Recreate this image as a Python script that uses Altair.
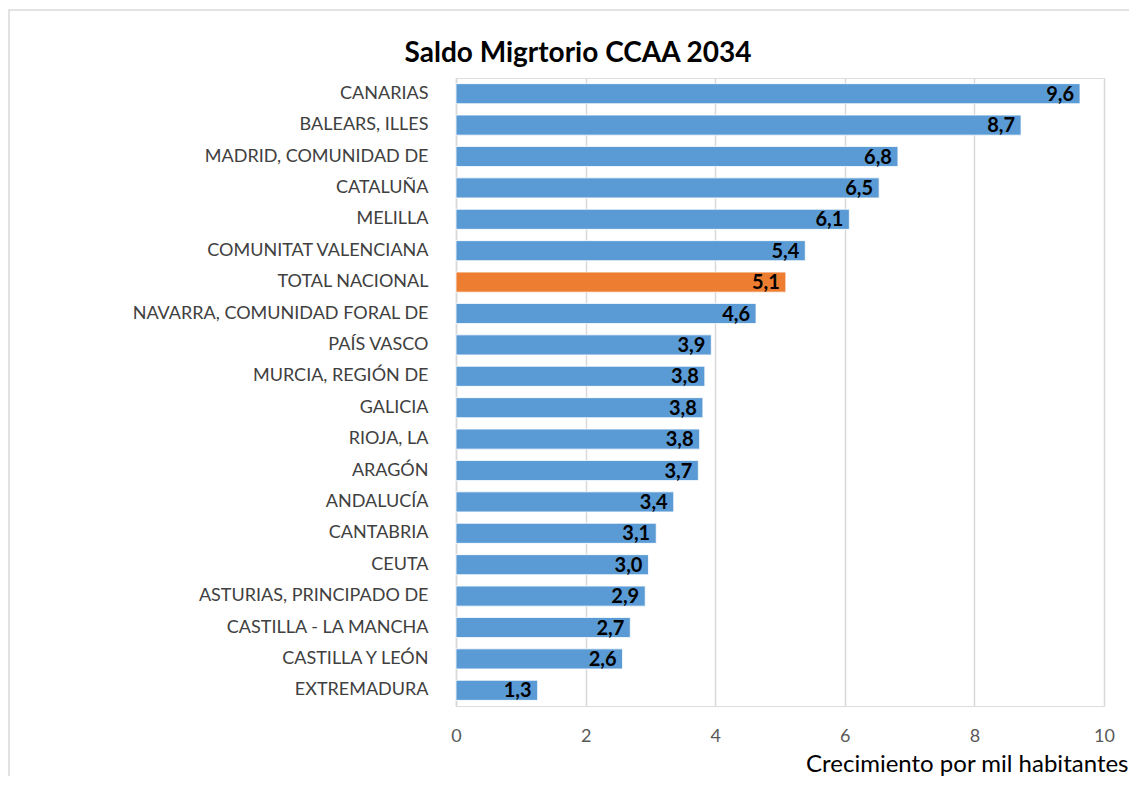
import altair as alt
import pandas as pd

regions = [
    "CANARIAS", "BALEARS, ILLES", "MADRID, COMUNIDAD DE", "CATALUÑA", "MELILLA",
    "COMUNITAT VALENCIANA", "TOTAL NACIONAL", "NAVARRA, COMUNIDAD FORAL DE",
    "PAÍS VASCO", "MURCIA, REGIÓN DE", "GALICIA", "RIOJA, LA", "ARAGÓN",
    "ANDALUCÍA", "CANTABRIA", "CEUTA", "ASTURIAS, PRINCIPADO DE",
    "CASTILLA - LA MANCHA", "CASTILLA Y LEÓN", "EXTREMADURA",
]
values = [9.63, 8.72, 6.82, 6.53, 6.07, 5.39, 5.09, 4.63, 3.94, 3.84, 3.81, 3.76,
          3.74, 3.36, 3.09, 2.97, 2.92, 2.69, 2.57, 1.26]
labels = ["9,6", "8,7", "6,8", "6,5", "6,1", "5,4", "5,1", "4,6", "3,9", "3,8",
          "3,8", "3,8", "3,7", "3,4", "3,1", "3,0", "2,9", "2,7", "2,6", "1,3"]
highlight = ["TOTAL NACIONAL"]
title_text = "Saldo Migrtorio CCAA 2034"

df = pd.DataFrame({"region": regions, "value": values, "label": labels})
df["grupo"] = ["total" if r in highlight else "ccaa" for r in regions]

W, H = 648, 628

y_enc = alt.Y("region:N", sort=regions, title=None,
              scale=alt.Scale(paddingInner=0.36, paddingOuter=0.18),
              axis=alt.Axis(labelFont="Lato", labelFontSize=18, labelColor="#404040",
                            labelPadding=28, ticks=False, domain=True,
                            domainColor="#d9d9d9", domainWidth=1.5, grid=False,
                            labelLimit=440))
x_enc = alt.X("value:Q", scale=alt.Scale(domain=[0, 10], nice=False),
              axis=alt.Axis(values=[0, 2, 4, 6, 8, 10], format="d", grid=True,
                            gridColor="#d9d9d9", gridWidth=1.5, domain=False, ticks=False,
                            labelFont="Lato", labelFontSize=18, labelColor="#595959",
                            labelPadding=21, labelFlush=False,
                            title="Crecimiento por mil habitantes",
                            titleFont="Lato", titleFontSize=24, titleFontWeight="normal",
                            titleColor="#000000", titleAnchor="end", titleAlign="right",
                            titleX=672, titleY=65, titleBaseline="alphabetic"))

frame = alt.Chart(pd.DataFrame({"k": [0]})).mark_rect(
    fill=None, stroke="#d9d9d9", strokeWidth=1.5
).encode(x=alt.value(-447), x2=alt.value(760), y=alt.value(-68), y2=alt.value(800))

title = alt.Chart(pd.DataFrame({"t": [title_text]})).mark_text(
    font="Lato", fontSize=28, fontWeight="bold", color="black",
    align="center", baseline="alphabetic"
).encode(text="t:N", x=alt.value(122), y=alt.value(-16))

bars = alt.Chart(df).mark_bar(stroke="white", strokeWidth=0.8).encode(
    x=x_enc, y=y_enc,
    color=alt.Color("grupo:N", scale=alt.Scale(domain=["ccaa", "total"],
                                               range=["#5B9BD5", "#ED7D31"]), legend=None),
)
text = alt.Chart(df).mark_text(align="right", dx=-6, dy=1, font="Lato", fontSize=20,
                               fontWeight="bold", color="black", baseline="middle").encode(
    x="value:Q", y=alt.Y("region:N", sort=regions), text="label:N")

chart = alt.layer(frame, bars, text, title).properties(
    width=W, height=H,
    autosize=alt.AutoSizeParams(type="none"),
    padding={"left": 448, "top": 70, "right": 25, "bottom": 70},
).configure_view(stroke=None).configure(background="white")

chart.save("out.html", embed_options={"renderer": "svg", "actions": False})
